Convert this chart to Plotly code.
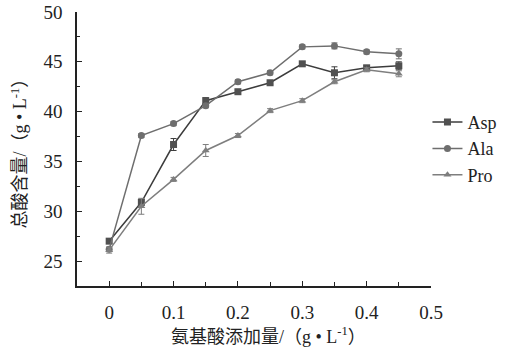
import plotly.graph_objects as go

x_vals = [0, 0.05, 0.1, 0.15, 0.2, 0.25, 0.3, 0.35, 0.4, 0.45]
asp = [27.0, 30.9, 36.7, 41.1, 42.0, 42.9, 44.8, 43.9, 44.4, 44.6]
asp_err = [0.2, 0.3, 0.6, 0.3, 0.2, 0.2, 0.2, 0.6, 0.2, 0.4]
ala = [26.2, 37.6, 38.8, 40.6, 43.0, 43.9, 46.5, 46.6, 46.0, 45.8]
ala_err = [0.2, 0.2, 0.2, 0.2, 0.2, 0.2, 0.2, 0.3, 0.2, 0.5]
pro = [26.1, 30.5, 33.2, 36.1, 37.6, 40.1, 41.1, 43.0, 44.2, 43.8]
pro_err = [0.3, 0.8, 0.2, 0.6, 0.2, 0.2, 0.2, 0.2, 0.2, 0.3]

x_ticks = [0, 0.1, 0.2, 0.3, 0.4, 0.5]
x_tick_text = ["0", "0.1", "0.2", "0.3", "0.4", "0.5"]
y_ticks = [25, 30, 35, 40, 45, 50]

series = [
    ("Asp", asp, asp_err, "#3c3c3c", "#505050", "square"),
    ("Ala", ala, ala_err, "#6e6e6e", "#6e6e6e", "circle"),
    ("Pro", pro, pro_err, "#7e7e7e", "#7e7e7e", "triangle-up"),
]

fig = go.Figure()
for name, vals, err, lc, mc, sym in series:
    fig.add_trace(go.Scatter(
        x=x_vals, y=vals, name=name, mode="lines+markers",
        line=dict(color=lc, width=1.5),
        marker=dict(symbol=sym, size=7, color=mc),
        error_y=dict(type="data", array=err, visible=True, color=lc, thickness=1, width=3),
    ))

font_main = '"Liberation Serif", "Times New Roman", "Noto Sans CJK SC", serif'

fig.update_layout(
    width=508, height=355,
    margin=dict(l=77, r=77, t=12, b=69, autoexpand=False),
    paper_bgcolor="white", plot_bgcolor="white",
    font=dict(family=font_main, size=16, color="#222"),
    showlegend=True,
    legend=dict(x=0.99, xanchor="left", y=0.665, yanchor="top",
                font=dict(size=18, family=font_main), bgcolor="rgba(0,0,0,0)",
                tracegroupgap=0, itemwidth=30),
    xaxis=dict(range=[-0.05, 0.5], tickvals=x_ticks, ticktext=x_tick_text,
               ticks="inside", ticklen=5, tickcolor="#222", tickwidth=1.2,
               minor=dict(dtick=0.05, tick0=0, ticks="inside", ticklen=4, tickcolor="#222"),
               showline=True, linecolor="#222", linewidth=1.5, showgrid=False, zeroline=False,
               tickfont=dict(size=19, family=font_main), ticklabelstandoff=8, automargin=False),
    yaxis=dict(range=[22.5, 50], tickvals=y_ticks,
               ticks="inside", ticklen=5, tickcolor="#222", tickwidth=1.2,
               minor=dict(dtick=2.5, tick0=0, ticks="inside", ticklen=3, tickcolor="#222"),
               showline=True, linecolor="#222", linewidth=1.5, showgrid=False, zeroline=False,
               tickfont=dict(size=19, family=font_main), ticklabelstandoff=9, automargin=False),
    annotations=[
        dict(text="氨基酸添加量/（g • L<sup>-1</sup>）", xref="paper", yref="paper",
             x=0.54, y=-0.18, xanchor="center", yanchor="middle", showarrow=False,
             font=dict(size=18, family=font_main)),
        dict(text="总酸含量/（g • L<sup>-1</sup>）", xref="paper", yref="paper",
             x=-0.165, y=0.5, xanchor="center", yanchor="middle", showarrow=False,
             textangle=-90, font=dict(size=18, family=font_main)),
    ],
)

fig.write_html("out.html", config={"displayModeBar": False},
               post_script="document.body.style.margin='0px';document.body.style.overflow='hidden';")
